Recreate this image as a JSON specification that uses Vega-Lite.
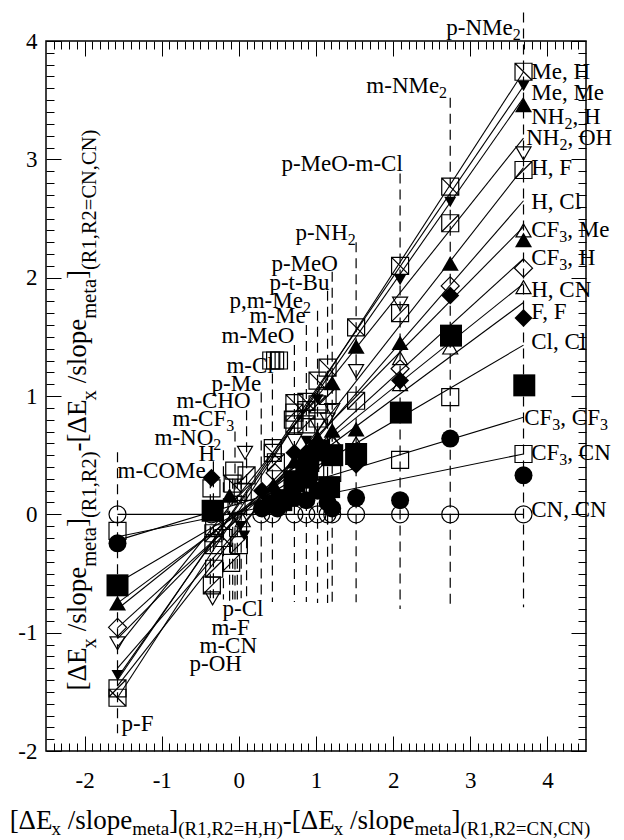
{
  "$schema": "https://vega.github.io/schema/vega-lite/v6.json",
  "width": 540,
  "height": 710,
  "autosize": {"type": "none"},
  "padding": {"left": 46, "top": 41, "right": 38, "bottom": 89},
  "background": "white",
  "config": {
    "view": {"stroke": "black", "strokeWidth": 1.5},
    "axis": {"grid": false, "domain": false, "title": null},
    "text": {"font": "Liberation Serif, Times New Roman, Times, serif"}
  },
  "resolve": {"axis": {"x": "independent", "y": "independent"}},
  "datasets": {
    "subs": [
      {"n": "p-F", "x": -1.573, "top": 0.524, "bot": -1.851},
      {"n": "m-COMe", "x": -0.37, "top": 0.304, "bot": -0.71},
      {"n": "H", "x": -0.33, "top": 0.448, "bot": -0.71},
      {"n": "m-NO2", "x": -0.2, "top": 0.541, "bot": -0.72},
      {"n": "m-CF3", "x": -0.05, "top": 0.7, "bot": -0.72},
      {"n": "m-CHO", "x": 0.1, "top": 0.879, "bot": -0.73},
      {"n": "p-Me", "x": 0.29, "top": 1.03, "bot": -0.73},
      {"n": "m-Cl", "x": 0.435, "top": 1.19, "bot": -0.74},
      {"n": "m-MeO", "x": 0.72, "top": 1.43, "bot": -0.74},
      {"n": "m-Me", "x": 0.875, "top": 1.6, "bot": -0.74},
      {"n": "p,m-Me2", "x": 1.02, "top": 1.72, "bot": -0.75},
      {"n": "p-t-Bu", "x": 1.15, "top": 1.89, "bot": -0.75},
      {"n": "p-MeO", "x": 1.21, "top": 2.05, "bot": -0.75},
      {"n": "p-NH2", "x": 1.52, "top": 2.3, "bot": -0.744},
      {"n": "p-MeO-m-Cl", "x": 2.09, "top": 2.88, "bot": -0.8},
      {"n": "m-NMe2", "x": 2.74, "top": 3.52, "bot": -0.795},
      {"n": "p-NMe2", "x": 3.69, "top": 4.24, "bot": -0.786},
      {"n": "p-Cl", "x": 0.03, "top": 0.3, "bot": -0.71},
      {"n": "m-F", "x": -0.02, "top": 0.3, "bot": -0.72},
      {"n": "m-CN", "x": -0.08, "top": 0.3, "bot": -0.72},
      {"n": "p-OH", "x": -0.12, "top": 0.3, "bot": -0.73}
    ],
    "fits": [
      {"s": "Me,H", "x": -1.573, "y": -1.55}, {"s": "Me,H", "x": 3.69, "y": 3.74},
      {"s": "Me,Me", "x": -1.573, "y": -1.4}, {"s": "Me,Me", "x": 3.69, "y": 3.62},
      {"s": "NH2,H", "x": -1.573, "y": -1.38}, {"s": "NH2,H", "x": 3.69, "y": 3.52},
      {"s": "NH2,OH", "x": -1.573, "y": -1.12}, {"s": "NH2,OH", "x": 3.69, "y": 3.18},
      {"s": "H,F", "x": -1.573, "y": -1.45}, {"s": "H,F", "x": 3.69, "y": 2.93},
      {"s": "H,Cl", "x": -1.573, "y": -1.3}, {"s": "H,Cl", "x": 3.69, "y": 2.65},
      {"s": "CF3,Me", "x": -1.573, "y": -1.05}, {"s": "CF3,Me", "x": 3.69, "y": 2.43},
      {"s": "CF3,H", "x": -1.573, "y": -0.96}, {"s": "CF3,H", "x": 3.69, "y": 2.16},
      {"s": "H,CN", "x": -1.573, "y": -0.8}, {"s": "H,CN", "x": 3.69, "y": 1.95},
      {"s": "F,F", "x": -1.573, "y": -0.75}, {"s": "F,F", "x": 3.69, "y": 1.79},
      {"s": "Cl,Cl", "x": -1.573, "y": -0.58}, {"s": "Cl,Cl", "x": 3.69, "y": 1.43},
      {"s": "CF3,CF3", "x": -1.573, "y": -0.22}, {"s": "CF3,CF3", "x": 3.69, "y": 0.82},
      {"s": "CF3,CN", "x": -1.573, "y": -0.19}, {"s": "CF3,CN", "x": 3.69, "y": 0.51},
      {"s": "CN,CN", "x": -1.573, "y": 0}, {"s": "CN,CN", "x": 3.69, "y": 0}
    ],
    "pts": [
      {"x": -1.573, "y": 0, "m": "circ"}, {"x": -1.573, "y": -0.14, "m": "sq"},
      {"x": -1.573, "y": -0.245, "m": "fcirc"}, {"x": -1.573, "y": -0.6, "m": "fsq"},
      {"x": -1.573, "y": -0.75, "m": "ftri"}, {"x": -1.573, "y": -0.955, "m": "diam"},
      {"x": -1.573, "y": -1.09, "m": "triD"}, {"x": -1.573, "y": -1.36, "m": "ftriD"},
      {"x": -1.573, "y": -1.47, "m": "sqF"}, {"x": -1.573, "y": -1.55, "m": "sqB"},

      {"x": -0.355, "y": 0.31, "m": "fdiam"}, {"x": -0.355, "y": 0.22, "m": "sq"},
      {"x": -0.34, "y": 0.03, "m": "fsq"}, {"x": -0.355, "y": 0, "m": "circ"},
      {"x": -0.33, "y": -0.16, "m": "sqF"}, {"x": -0.33, "y": -0.26, "m": "sqF"},
      {"x": -0.32, "y": -0.46, "m": "sqF"}, {"x": -0.35, "y": -0.6, "m": "sqF"},
      {"x": -0.34, "y": -0.71, "m": "triD"}, {"x": -0.3, "y": 0.05, "m": "ftri"},
      {"x": -0.32, "y": -0.1, "m": "sq"},

      {"x": -0.06, "y": 0.37, "m": "sq"}, {"x": -0.03, "y": 0.08, "m": "sq"},
      {"x": -0.12, "y": 0.16, "m": "ftri"}, {"x": 0.08, "y": 0.52, "m": "triD"},
      {"x": 0.1, "y": 0.33, "m": "sqF"}, {"x": 0.05, "y": 0.19, "m": "sqF"},
      {"x": 0.07, "y": -0.18, "m": "ftriD"}, {"x": -0.1, "y": -0.41, "m": "sqF"},
      {"x": 0.0, "y": -0.26, "m": "sqF"}, {"x": -0.2, "y": -0.2, "m": "sqB"},
      {"x": -0.08, "y": 0.26, "m": "sqB"}, {"x": 0.05, "y": -0.05, "m": "triU"},
      {"x": -0.15, "y": -0.05, "m": "diam"}, {"x": 0.02, "y": -0.1, "m": "ftriD"},

      {"x": 0.42, "y": 1.3, "m": "sqV"}, {"x": 0.47, "y": 1.3, "m": "sqV"},
      {"x": 0.52, "y": 1.3, "m": "sqV"}, {"x": 0.44, "y": 0.52, "m": "sqB"},
      {"x": 0.48, "y": 0.44, "m": "sqF"}, {"x": 0.44, "y": 0.56, "m": "sq"},
      {"x": 0.4, "y": 0.09, "m": "fcirc"}, {"x": 0.3, "y": 0.05, "m": "fcirc"},
      {"x": 0.435, "y": 0, "m": "circ"}, {"x": 0.29, "y": 0, "m": "circ"},
      {"x": 0.5, "y": 0.05, "m": "fcirc"}, {"x": 0.55, "y": 0.12, "m": "fsq"},
      {"x": 0.45, "y": 0.25, "m": "ftri"}, {"x": 0.47, "y": 0.35, "m": "diam"},
      {"x": 0.3, "y": 0.2, "m": "fdiam"},

      {"x": 0.72, "y": 0.94, "m": "sqB"}, {"x": 0.72, "y": 0.86, "m": "sqF"},
      {"x": 0.7, "y": 0.8, "m": "sq"}, {"x": 0.72, "y": 0.76, "m": "sqF"},
      {"x": 0.72, "y": 0.62, "m": "triD"}, {"x": 0.72, "y": 0.52, "m": "fdiam"},
      {"x": 0.72, "y": 0.45, "m": "ftri"}, {"x": 0.72, "y": 0.28, "m": "fsq"},
      {"x": 0.72, "y": 0.14, "m": "fcirc"}, {"x": 0.72, "y": 0, "m": "circ"},
      {"x": 0.72, "y": 0.38, "m": "diam"},

      {"x": 0.875, "y": 0.95, "m": "sqB"}, {"x": 0.875, "y": 0.88, "m": "sqF"},
      {"x": 0.875, "y": 0.76, "m": "sqF"}, {"x": 0.875, "y": 0.62, "m": "ftriD"},
      {"x": 0.875, "y": 0.52, "m": "fdiam"}, {"x": 0.875, "y": 0.42, "m": "triU"},
      {"x": 0.875, "y": 0.31, "m": "fsq"}, {"x": 0.875, "y": 0.12, "m": "fcirc"},
      {"x": 0.875, "y": 0, "m": "circ"}, {"x": 0.9, "y": 0.45, "m": "fsq"},

      {"x": 1.02, "y": 1.13, "m": "sqB"}, {"x": 1.02, "y": 0.97, "m": "ftriD"},
      {"x": 1.02, "y": 0.93, "m": "sqF"}, {"x": 1.02, "y": 0.81, "m": "sq"},
      {"x": 1.02, "y": 0.65, "m": "ftri"}, {"x": 1.02, "y": 0.57, "m": "fdiam"},
      {"x": 1.04, "y": 0.54, "m": "fsq"}, {"x": 1.02, "y": 0.45, "m": "diam"},
      {"x": 1.02, "y": 0.2, "m": "fcirc"}, {"x": 1.02, "y": 0, "m": "circ"},
      {"x": 1.02, "y": 0.75, "m": "triD"},

      {"x": 1.15, "y": 1.24, "m": "sqB"}, {"x": 1.15, "y": 1.0, "m": "sqF"},
      {"x": 1.15, "y": 0.8, "m": "triD"}, {"x": 1.15, "y": 0.48, "m": "fdiam"},
      {"x": 1.17, "y": 0.23, "m": "fsq"}, {"x": 1.15, "y": 0.1, "m": "fcirc"},
      {"x": 1.15, "y": 0, "m": "circ"}, {"x": 1.15, "y": 0.55, "m": "triU"},

      {"x": 1.21, "y": 1.11, "m": "ftri"}, {"x": 1.21, "y": 0.88, "m": "triD"},
      {"x": 1.21, "y": 0.71, "m": "ftri"}, {"x": 1.21, "y": 0.63, "m": "triU"},
      {"x": 1.21, "y": 0.58, "m": "diam"}, {"x": 1.21, "y": 0.5, "m": "fsq"},
      {"x": 1.21, "y": 0.05, "m": "fcirc"}, {"x": 1.21, "y": 0, "m": "circ"},
      {"x": 1.21, "y": 0.35, "m": "sq"},

      {"x": 1.52, "y": 1.58, "m": "sqB"}, {"x": 1.52, "y": 1.42, "m": "ftri"},
      {"x": 1.52, "y": 1.21, "m": "triD"}, {"x": 1.52, "y": 0.96, "m": "sqF"},
      {"x": 1.52, "y": 0.72, "m": "ftri"}, {"x": 1.52, "y": 0.6, "m": "triU"},
      {"x": 1.52, "y": 0.51, "m": "fsq"}, {"x": 1.52, "y": 0.45, "m": "diam"},
      {"x": 1.52, "y": 0.42, "m": "fdiam"}, {"x": 1.52, "y": 0.14, "m": "fcirc"},
      {"x": 1.52, "y": 0, "m": "circ"},

      {"x": 2.09, "y": 2.1, "m": "sqB"}, {"x": 2.09, "y": 1.98, "m": "ftriD"},
      {"x": 2.09, "y": 1.78, "m": "triD"}, {"x": 2.09, "y": 1.7, "m": "sqF"},
      {"x": 2.09, "y": 1.45, "m": "ftri"}, {"x": 2.09, "y": 1.32, "m": "triU"},
      {"x": 2.09, "y": 1.23, "m": "diam"}, {"x": 2.09, "y": 1.13, "m": "fdiam"},
      {"x": 2.09, "y": 1.1, "m": "triU"}, {"x": 2.1, "y": 0.86, "m": "fsq"},
      {"x": 2.09, "y": 0.46, "m": "sq"}, {"x": 2.09, "y": 0.12, "m": "fcirc"},
      {"x": 2.09, "y": 0, "m": "circ"},

      {"x": 2.74, "y": 2.77, "m": "sqB"}, {"x": 2.74, "y": 2.64, "m": "ftriD"},
      {"x": 2.74, "y": 2.46, "m": "sqF"}, {"x": 2.74, "y": 2.12, "m": "ftri"},
      {"x": 2.74, "y": 1.93, "m": "diam"}, {"x": 2.74, "y": 1.85, "m": "fdiam"},
      {"x": 2.75, "y": 1.51, "m": "fsq"}, {"x": 2.74, "y": 1.41, "m": "triU"},
      {"x": 2.74, "y": 0.99, "m": "sq"}, {"x": 2.74, "y": 0.64, "m": "fcirc"},
      {"x": 2.74, "y": 0, "m": "circ"},

      {"x": 3.69, "y": 3.74, "m": "sqB"}, {"x": 3.69, "y": 3.62, "m": "ftriD"},
      {"x": 3.69, "y": 3.46, "m": "ftri"}, {"x": 3.69, "y": 3.05, "m": "triD"},
      {"x": 3.69, "y": 2.91, "m": "sqF"}, {"x": 3.69, "y": 2.4, "m": "triU"},
      {"x": 3.69, "y": 2.32, "m": "ftri"}, {"x": 3.69, "y": 2.08, "m": "diam"},
      {"x": 3.69, "y": 1.92, "m": "triU"}, {"x": 3.69, "y": 1.66, "m": "fdiam"},
      {"x": 3.7, "y": 1.09, "m": "fsq"}, {"x": 3.69, "y": 0.51, "m": "sq"},
      {"x": 3.69, "y": 0.33, "m": "fcirc"}, {"x": 3.69, "y": 0, "m": "circ"}
    ],
    "ann": [
      {"t": "Me, H", "x": 3.79, "y": 3.677, "k": "m"},
      {"t": "Me, Me", "x": 3.79, "y": 3.5, "k": "m"},
      {"t": "NH", "x": 3.79, "y": 3.297, "k": "m"}, {"t": "2", "x": 4.22, "y": 3.255, "k": "s"}, {"t": ", H", "x": 4.324, "y": 3.297, "k": "m"},
      {"t": "NH", "x": 3.725, "y": 3.119, "k": "m"}, {"t": "2", "x": 4.155, "y": 3.077, "k": "s"}, {"t": ", OH", "x": 4.259, "y": 3.119, "k": "m"},
      {"t": "H, F", "x": 3.79, "y": 2.866, "k": "m"},
      {"t": "H, Cl", "x": 3.79, "y": 2.578, "k": "m"},
      {"t": "CF", "x": 3.79, "y": 2.342, "k": "m"}, {"t": "3", "x": 4.154, "y": 2.299, "k": "s"}, {"t": ", Me", "x": 4.258, "y": 2.342, "k": "m"},
      {"t": "CF", "x": 3.79, "y": 2.105, "k": "m"}, {"t": "3", "x": 4.154, "y": 2.063, "k": "s"}, {"t": ", H", "x": 4.258, "y": 2.105, "k": "m"},
      {"t": "H, CN", "x": 3.79, "y": 1.834, "k": "m"},
      {"t": "F, F", "x": 3.79, "y": 1.648, "k": "m"},
      {"t": "Cl, Cl", "x": 3.79, "y": 1.395, "k": "m"},
      {"t": "CF", "x": 3.699, "y": 0.752, "k": "m"}, {"t": "3", "x": 4.063, "y": 0.71, "k": "s"}, {"t": ", CF", "x": 4.167, "y": 0.752, "k": "m"}, {"t": "3", "x": 4.68, "y": 0.71, "k": "s"},
      {"t": "CF", "x": 3.79, "y": 0.456, "k": "m"}, {"t": "3", "x": 4.154, "y": 0.414, "k": "s"}, {"t": ", CN", "x": 4.258, "y": 0.456, "k": "m"},
      {"t": "CN, CN", "x": 3.79, "y": -0.025, "k": "m"},

      {"t": "p-NMe", "x": 2.689, "y": 4.049, "k": "m"}, {"t": "2", "x": 3.549, "y": 4.007, "k": "s"},
      {"t": "m-NMe", "x": 1.653, "y": 3.559, "k": "m"}, {"t": "2", "x": 2.596, "y": 3.516, "k": "s"},
      {"t": "p-MeO-m-Cl", "x": 0.552, "y": 2.899, "k": "m"},
      {"t": "p-NH", "x": 0.733, "y": 2.316, "k": "m"}, {"t": "2", "x": 1.412, "y": 2.274, "k": "s"},
      {"t": "p-MeO", "x": 0.422, "y": 2.054, "k": "m"},
      {"t": "p-t-Bu", "x": 0.396, "y": 1.894, "k": "m"},
      {"t": "p,m-Me", "x": -0.122, "y": 1.741, "k": "m"}, {"t": "2", "x": 0.83, "y": 1.699, "k": "s"},
      {"t": "m-Me", "x": 0.137, "y": 1.615, "k": "m"},
      {"t": "m-MeO", "x": -0.225, "y": 1.445, "k": "m"},
      {"t": "m-Cl", "x": -0.161, "y": 1.192, "k": "m"},
      {"t": "p-Me", "x": -0.355, "y": 1.04, "k": "m"},
      {"t": "m-CHO", "x": -0.808, "y": 0.896, "k": "m"},
      {"t": "m-CF", "x": -0.86, "y": 0.744, "k": "m"}, {"t": "3", "x": -0.165, "y": 0.702, "k": "s"},
      {"t": "m-NO", "x": -1.093, "y": 0.583, "k": "m"}, {"t": "2", "x": -0.332, "y": 0.541, "k": "s"},
      {"t": "H", "x": -0.523, "y": 0.448, "k": "m"},
      {"t": "m-COMe", "x": -1.573, "y": 0.304, "k": "m"},
      {"t": "p-Cl", "x": -0.212, "y": -0.862, "k": "m"},
      {"t": "m-F", "x": -0.355, "y": -1.023, "k": "m"},
      {"t": "m-CN", "x": -0.51, "y": -1.175, "k": "m"},
      {"t": "p-OH", "x": -0.64, "y": -1.327, "k": "m"},
      {"t": "p-F", "x": -1.521, "y": -1.834, "k": "m"}
    ],
    "ttl": [
      {"t": "[ΔE", "x": -2.9715, "y": -2.663, "k": "xm"},
      {"t": "x", "x": -2.4275, "y": -2.713, "k": "xs"},
      {"t": "/slope", "x": -2.217, "y": -2.663, "k": "xm"},
      {"t": "meta", "x": -1.3808, "y": -2.713, "k": "xs"},
      {"t": "]", "x": -0.9028, "y": -2.663, "k": "xm"},
      {"t": "(R1,R2=H,H)", "x": -0.7863, "y": -2.713, "k": "xs"},
      {"t": "-[ΔE", "x": 0.5699, "y": -2.663, "k": "xm"},
      {"t": "x", "x": 1.2306, "y": -2.713, "k": "xs"},
      {"t": "/slope", "x": 1.441, "y": -2.663, "k": "xm"},
      {"t": "meta", "x": 2.2772, "y": -2.713, "k": "xs"},
      {"t": "]", "x": 2.7552, "y": -2.663, "k": "xm"},
      {"t": "(R1,R2=CN,CN)", "x": 2.8718, "y": -2.713, "k": "xs"},

      {"t": "[ΔE", "x": -1.987, "y": -1.488, "k": "ym"},
      {"t": "x", "x": -1.858, "y": -1.133, "k": "ys"},
      {"t": "/slope", "x": -1.987, "y": -0.989, "k": "ym"},
      {"t": "meta", "x": -1.858, "y": -0.444, "k": "ys"},
      {"t": "]", "x": -1.987, "y": -0.107, "k": "ym"},
      {"t": "(R1,R2)", "x": -1.858, "y": -0.031, "k": "ys"},
      {"t": "-[ΔE", "x": -1.987, "y": 0.532, "k": "ym"},
      {"t": "x", "x": -1.858, "y": 0.963, "k": "ys"},
      {"t": "/slope", "x": -1.987, "y": 1.107, "k": "ym"},
      {"t": "meta", "x": -1.858, "y": 1.652, "k": "ys"},
      {"t": "]", "x": -1.987, "y": 1.989, "k": "ym"},
      {"t": "(R1,R2=CN,CN)", "x": -1.858, "y": 2.065, "k": "ys"}
    ]
  },
  "layer": [
    {
      "data": {"name": "subs"},
      "mark": {"type": "rule", "strokeDash": [10, 6], "strokeWidth": 1.2, "color": "black"},
      "encoding": {
        "x": {"field": "x", "type": "quantitative",
          "scale": {"domain": [-2.5, 4.5], "nice": false, "zero": false},
          "axis": {"orient": "bottom", "values": [-2, -1, 0, 1, 2, 3, 4], "ticks": false, "labelFont": "Liberation Serif, Times New Roman, Times, serif", "labelFontSize": 23, "labelColor": "black", "labelPadding": 18, "labelExpr": "datum.value", "labelFlush": false, "labelOverlap": false}},
        "y": {"field": "top", "type": "quantitative",
          "scale": {"domain": [-2, 4], "nice": false, "zero": false},
          "axis": {"orient": "left", "values": [-2, -1, 0, 1, 2, 3, 4], "ticks": false, "labelFont": "Liberation Serif, Times New Roman, Times, serif", "labelFontSize": 23, "labelColor": "black", "labelPadding": 9, "labelExpr": "datum.value", "labelFlush": false, "labelOverlap": false}},
        "y2": {"field": "bot"}
      }
    },
    {
      "data": {"name": "fits"},
      "mark": {"type": "line", "color": "black", "strokeWidth": 1.1},
      "encoding": {
        "x": {"field": "x", "type": "quantitative",
          "axis": {"orient": "bottom", "values": [-2, -1, 0, 1, 2, 3, 4], "labels": false, "tickColor": "black", "tickWidth": 1, "tickSize": -15}},
        "y": {"field": "y", "type": "quantitative",
          "axis": {"orient": "left", "values": [-2, -1, 0, 1, 2, 3, 4], "labels": false, "tickColor": "black", "tickWidth": 1, "tickSize": -15}},
        "detail": {"field": "s"}
      }
    },
    {
      "data": {"name": "pts"},
      "transform": [{"filter": {"field": "m", "oneOf": ["sqB", "sqF", "sqV", "sq", "circ", "triU", "triD", "diam"]}}],
      "mark": {"type": "point", "filled": false, "strokeWidth": 1.2, "color": "black", "opacity": 1},
      "encoding": {
        "x": {"field": "x", "type": "quantitative",
          "axis": {"orient": "bottom", "labels": false, "tickColor": "black", "tickWidth": 1, "tickSize": -8,
            "values": [-2.4,-2.3,-2.2,-2.1,-1.9,-1.8,-1.7,-1.6,-1.5,-1.4,-1.3,-1.2,-1.1,-0.9,-0.8,-0.7,-0.6,-0.5,-0.4,-0.3,-0.2,-0.1,0.1,0.2,0.3,0.4,0.5,0.6,0.7,0.8,0.9,1.1,1.2,1.3,1.4,1.5,1.6,1.7,1.8,1.9,2.1,2.2,2.3,2.4,2.5,2.6,2.7,2.8,2.9,3.1,3.2,3.3,3.4,3.5,3.6,3.7,3.8,3.9,4.1,4.2,4.3,4.4]}},
        "y": {"field": "y", "type": "quantitative",
          "axis": {"orient": "left", "labels": false, "tickColor": "black", "tickWidth": 1, "tickSize": -8,
            "values": [-1.9,-1.8,-1.7,-1.6,-1.5,-1.4,-1.3,-1.2,-1.1,-0.9,-0.8,-0.7,-0.6,-0.5,-0.4,-0.3,-0.2,-0.1,0.1,0.2,0.3,0.4,0.5,0.6,0.7,0.8,0.9,1.1,1.2,1.3,1.4,1.5,1.6,1.7,1.8,1.9,2.1,2.2,2.3,2.4,2.5,2.6,2.7,2.8,2.9,3.1,3.2,3.3,3.4,3.5,3.6,3.7,3.8,3.9]}},
        "shape": {"field": "m", "type": "nominal", "legend": null,
          "scale": {"domain": ["sqB", "sqF", "sqV", "sq", "circ", "triU", "triD", "diam", "fsq", "fcirc", "ftri", "ftriD", "fdiam"],
            "range": ["M-1,-1H1V1H-1ZM-1,-1L1,1", "M-1,-1H1V1H-1ZM-1,1L1,-1", "M-1,-1H1V1H-1ZM0,-1V1", "square", "circle", "triangle-up", "triangle-down", "diamond", "square", "circle", "triangle-up", "triangle-down", "diamond"]}},
        "size": {"field": "m", "type": "nominal", "legend": null,
          "scale": {"type": "ordinal", "domain": ["sqB", "sqF", "sqV", "sq", "circ", "triU", "triD", "diam", "fsq", "fcirc", "ftri", "ftriD", "fdiam"],
            "range": [289, 289, 289, 289, 289, 225, 225, 324, 484, 324, 289, 144, 324]}}
      }
    },
    {
      "data": {"name": "pts"},
      "transform": [{"filter": {"field": "m", "oneOf": ["fsq", "fcirc", "ftri", "ftriD", "fdiam"]}}],
      "mark": {"type": "point", "filled": true, "strokeWidth": 0, "color": "black", "opacity": 1},
      "encoding": {
        "x": {"field": "x", "type": "quantitative",
          "axis": {"orient": "top", "values": [-2, -1, 0, 1, 2, 3, 4], "labels": false, "tickColor": "black", "tickWidth": 1, "tickSize": -15}},
        "y": {"field": "y", "type": "quantitative",
          "axis": {"orient": "right", "values": [-2, -1, 0, 1, 2, 3, 4], "labels": false, "tickColor": "black", "tickWidth": 1, "tickSize": -15}},
        "shape": {"field": "m", "type": "nominal", "legend": null,
          "scale": {"domain": ["sqB", "sqF", "sqV", "sq", "circ", "triU", "triD", "diam", "fsq", "fcirc", "ftri", "ftriD", "fdiam"],
            "range": ["M-1,-1H1V1H-1ZM-1,-1L1,1", "M-1,-1H1V1H-1ZM-1,1L1,-1", "M-1,-1H1V1H-1ZM0,-1V1", "square", "circle", "triangle-up", "triangle-down", "diamond", "square", "circle", "triangle-up", "triangle-down", "diamond"]}},
        "size": {"field": "m", "type": "nominal", "legend": null,
          "scale": {"type": "ordinal", "domain": ["sqB", "sqF", "sqV", "sq", "circ", "triU", "triD", "diam", "fsq", "fcirc", "ftri", "ftriD", "fdiam"],
            "range": [289, 289, 289, 289, 289, 225, 225, 324, 484, 324, 289, 144, 324]}}
      }
    },
    {
      "data": {"name": "ann"},
      "transform": [{"filter": "datum.k === 'm'"}],
      "mark": {"type": "text", "align": "left", "baseline": "alphabetic", "font": "Liberation Serif, Times New Roman, Times, serif", "fontSize": 23, "color": "black"},
      "encoding": {
        "x": {"field": "x", "type": "quantitative",
          "axis": {"orient": "top", "labels": false, "tickColor": "black", "tickWidth": 1, "tickSize": -8,
            "values": [-2.4,-2.3,-2.2,-2.1,-1.9,-1.8,-1.7,-1.6,-1.5,-1.4,-1.3,-1.2,-1.1,-0.9,-0.8,-0.7,-0.6,-0.5,-0.4,-0.3,-0.2,-0.1,0.1,0.2,0.3,0.4,0.5,0.6,0.7,0.8,0.9,1.1,1.2,1.3,1.4,1.5,1.6,1.7,1.8,1.9,2.1,2.2,2.3,2.4,2.5,2.6,2.7,2.8,2.9,3.1,3.2,3.3,3.4,3.5,3.6,3.7,3.8,3.9,4.1,4.2,4.3,4.4]}},
        "y": {"field": "y", "type": "quantitative",
          "axis": {"orient": "right", "labels": false, "tickColor": "black", "tickWidth": 1, "tickSize": -8,
            "values": [-1.9,-1.8,-1.7,-1.6,-1.5,-1.4,-1.3,-1.2,-1.1,-0.9,-0.8,-0.7,-0.6,-0.5,-0.4,-0.3,-0.2,-0.1,0.1,0.2,0.3,0.4,0.5,0.6,0.7,0.8,0.9,1.1,1.2,1.3,1.4,1.5,1.6,1.7,1.8,1.9,2.1,2.2,2.3,2.4,2.5,2.6,2.7,2.8,2.9,3.1,3.2,3.3,3.4,3.5,3.6,3.7,3.8,3.9]}},
        "text": {"field": "t"}
      }
    },
    {
      "data": {"name": "ann"},
      "transform": [{"filter": "datum.k === 's'"}],
      "mark": {"type": "text", "align": "left", "baseline": "alphabetic", "font": "Liberation Serif, Times New Roman, Times, serif", "fontSize": 16, "color": "black"},
      "encoding": {
        "x": {"field": "x", "type": "quantitative", "axis": null},
        "y": {"field": "y", "type": "quantitative", "axis": null},
        "text": {"field": "t"}
      }
    },
    {
      "data": {"name": "ttl"},
      "transform": [{"filter": "datum.k === 'xm'"}],
      "mark": {"type": "text", "align": "left", "baseline": "alphabetic", "font": "Liberation Serif, Times New Roman, Times, serif", "fontSize": 27, "color": "black"},
      "encoding": {
        "x": {"field": "x", "type": "quantitative", "axis": null},
        "y": {"field": "y", "type": "quantitative", "axis": null},
        "text": {"field": "t"}
      }
    },
    {
      "data": {"name": "ttl"},
      "transform": [{"filter": "datum.k === 'xs'"}],
      "mark": {"type": "text", "align": "left", "baseline": "alphabetic", "font": "Liberation Serif, Times New Roman, Times, serif", "fontSize": 19, "color": "black"},
      "encoding": {
        "x": {"field": "x", "type": "quantitative", "axis": null},
        "y": {"field": "y", "type": "quantitative", "axis": null},
        "text": {"field": "t"}
      }
    },
    {
      "data": {"name": "ttl"},
      "transform": [{"filter": "datum.k === 'ym'"}],
      "mark": {"type": "text", "align": "left", "baseline": "alphabetic", "font": "Liberation Serif, Times New Roman, Times, serif", "fontSize": 27, "angle": 270, "color": "black"},
      "encoding": {
        "x": {"field": "x", "type": "quantitative", "axis": null},
        "y": {"field": "y", "type": "quantitative", "axis": null},
        "text": {"field": "t"}
      }
    },
    {
      "data": {"name": "ttl"},
      "transform": [{"filter": "datum.k === 'ys'"}],
      "mark": {"type": "text", "align": "left", "baseline": "alphabetic", "font": "Liberation Serif, Times New Roman, Times, serif", "fontSize": 20.5, "angle": 270, "color": "black"},
      "encoding": {
        "x": {"field": "x", "type": "quantitative", "axis": null},
        "y": {"field": "y", "type": "quantitative", "axis": null},
        "text": {"field": "t"}
      }
    }
  ]
}
